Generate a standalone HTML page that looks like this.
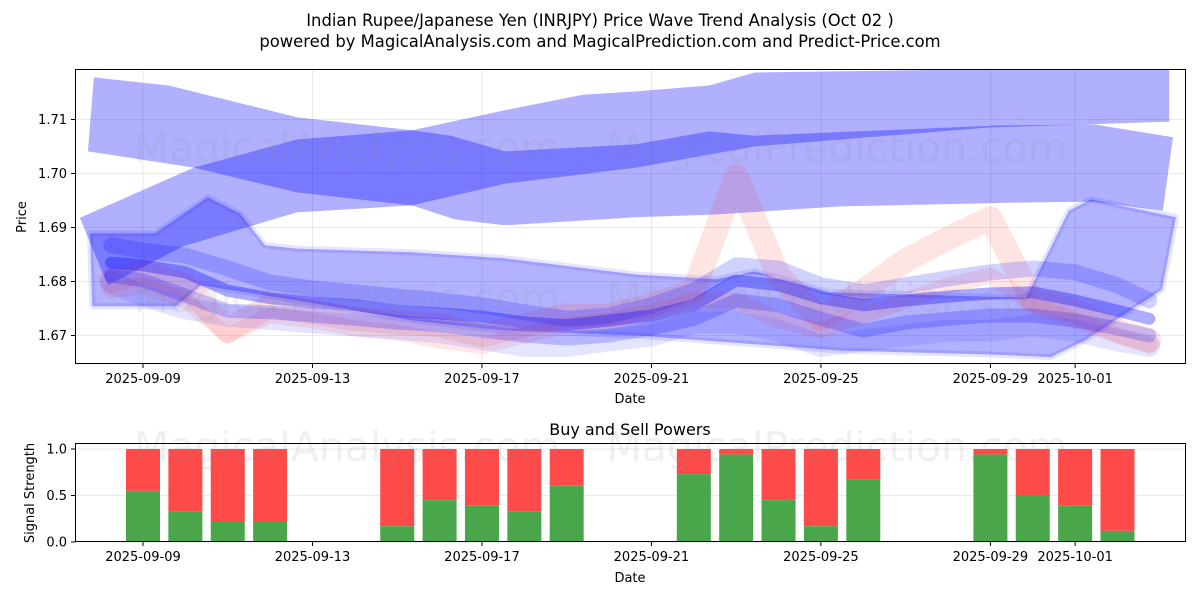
<!DOCTYPE html>
<html><head><meta charset="utf-8">
<style>
html,body{margin:0;padding:0;background:#fff;}
svg{display:block;font-family:"DejaVu Sans","Liberation Sans",sans-serif;}
</style></head>
<body>
<svg id="chart" width="1200" height="600" viewBox="0 0 1200 600" xmlns="http://www.w3.org/2000/svg">
<defs>
<clipPath id="clipTop"><rect x="76" y="70" width="1110" height="294"/></clipPath>
</defs>
<rect width="1200" height="600" fill="#fff"/>
<text x="600" y="26" text-anchor="middle" font-size="16.4">Indian Rupee/Japanese Yen (INRJPY) Price Wave Trend Analysis (Oct 02 )</text>
<text x="600" y="47" text-anchor="middle" font-size="16.4">powered by MagicalAnalysis.com and MagicalPrediction.com and Predict-Price.com</text>
<g id="gTopGrid"></g>
<g id="gTopMarks" clip-path="url(#clipTop)"></g>
<g id="gBotGrid"></g>
<g id="gBars"></g>
<g id="gWater" font-size="41" fill="#888" fill-opacity="0.13" text-anchor="middle">
<text x="347" y="162">MagicalAnalysis.com</text>
<text x="837" y="162">MagicalPrediction.com</text>
<text x="347" y="312">MagicalAnalysis.com</text>
<text x="837" y="312">MagicalPrediction.com</text>
<text x="347" y="461">MagicalAnalysis.com</text>
<text x="837" y="461">MagicalPrediction.com</text>
</g>
<rect x="75.5" y="69.5" width="1110" height="294" fill="none" stroke="#000" stroke-width="1"/>
<rect x="75.5" y="443.5" width="1110" height="98" fill="none" stroke="#000" stroke-width="1"/>
<g id="gAxes" font-size="13"></g>
<text x="630" y="403" text-anchor="middle" font-size="13">Date</text>
<text x="26" y="217" text-anchor="middle" font-size="13" transform="rotate(-90 26 217)">Price</text>
<text x="630" y="435" text-anchor="middle" font-size="16">Buy and Sell Powers</text>
<text x="630" y="582" text-anchor="middle" font-size="13">Date</text>
<text x="34" y="493" text-anchor="middle" font-size="13" transform="rotate(-90 34 493)">Signal Strength</text>
</svg>
<script>
// ---- data (day offsets from 2025-09-09, prices) ----
const xTickDays = [0, 4, 8, 12, 16, 20, 22];
const xTickLabels = ["2025-09-09","2025-09-13","2025-09-17","2025-09-21","2025-09-25","2025-09-29","2025-10-01"];
const yTickValues = [1.67, 1.68, 1.69, 1.70, 1.71];
const yTickLabels = ["1.67","1.68","1.69","1.70","1.71"];
const sTickValues = [0, 0.5, 1.0];
const sTickLabels = ["0.0","0.5","1.0"];

const bandATopDay = [-1.16,0.61,3.63,6.35,8.54,10.38,11.64,13.36,14.44,24.22];
const bandATopPrice = [1.7178,1.7163,1.7104,1.7080,1.7117,1.7146,1.7152,1.7163,1.7187,1.7198];
const bandABotDay = [-1.30,1.20,3.63,6.35,8.54,11.64,14.44,19.92,24.22];
const bandABotPrice = [1.7041,1.7011,1.6965,1.6941,1.6981,1.7011,1.7050,1.7085,1.7096];

const bandBTopDay = [-1.49,1.20,3.63,6.35,7.27,8.54,11.64,13.36,14.44,20.23,22.45,24.31];
const bandBTopPrice = [1.6918,1.7011,1.7063,1.7080,1.7070,1.7041,1.7054,1.7078,1.7070,1.7089,1.7091,1.7067];
const bandBBotDay = [-0.83,0.94,3.63,6.35,7.36,8.54,11.64,13.52,16.47,20.44,22.45,24.07];
const bandBBotPrice = [1.6793,1.6865,1.6928,1.6941,1.6915,1.6904,1.6919,1.6924,1.6939,1.6946,1.6948,1.6931];

const bandCTopDay = [-1.25,0.28,1.53,2.29,2.88,3.63,6.35,8.54,11.64,13.52,14.44,16.21,20.84,21.85,22.37,24.38];
const bandCTopPrice = [1.6889,1.6889,1.6956,1.6926,1.6867,1.6861,1.6854,1.6843,1.6813,1.6804,1.6819,1.6780,1.6770,1.6931,1.6952,1.6919];
const bandCBotDay = [-1.20,0.78,1.37,3.63,6.35,8.54,11.64,16.47,19.92,21.43,22.21,24.05];
const bandCBotPrice = [1.6754,1.6754,1.6793,1.6765,1.6728,1.6709,1.6700,1.6672,1.6665,1.6660,1.6690,1.6785];

const lineDays = [-0.75,0,1,2,3,4,5,6,7,8,9,10,11,12,13,14,15,16,17,18,19,20,21,22,23,23.75];
const blue1 = [1.6835,1.6830,1.6817,1.6783,1.6769,1.6761,1.6756,1.6746,1.6741,1.6735,1.6724,1.6719,1.6728,1.6737,1.6756,1.6802,1.6793,1.6769,1.6756,1.6765,1.6772,1.6778,1.6780,1.6765,1.6746,1.6731];
const blue2 = [1.6867,1.6857,1.6848,1.6824,1.6798,1.6787,1.6780,1.6772,1.6765,1.6756,1.6743,1.6731,1.6737,1.6756,1.6783,1.6830,1.6824,1.6793,1.6780,1.6793,1.6806,1.6817,1.6824,1.6817,1.6793,1.6765];
const blue3 = [1.6811,1.6802,1.6774,1.6746,1.6743,1.6737,1.6731,1.6724,1.6719,1.6709,1.6700,1.6694,1.6700,1.6713,1.6731,1.6765,1.6756,1.6731,1.6709,1.6724,1.6731,1.6737,1.6737,1.6728,1.6713,1.6700];
const blue4 = [1.6798,1.6774,1.6750,1.6737,1.6731,1.6724,1.6719,1.6713,1.6706,1.6694,1.6681,1.6681,1.6691,1.6700,1.6724,1.6724,1.6709,1.6681,1.6691,1.6700,1.6709,1.6709,1.6719,1.6709,1.6691,1.6681];
const red1 = [1.6802,1.6817,1.6793,1.6709,1.6756,1.6743,1.6731,1.6724,1.6719,1.6700,1.6719,1.6737,1.6737,1.6756,1.6783,1.6996,1.6811,1.6731,1.6783,1.6839,1.6880,1.6917,1.6765,1.6746,1.6709,1.6691];
const red2 = [1.6783,1.6793,1.6765,1.6700,1.6737,1.6728,1.6713,1.6706,1.6691,1.6681,1.6700,1.6719,1.6728,1.6743,1.6765,1.6765,1.6728,1.6709,1.6737,1.6765,1.6793,1.6811,1.6756,1.6728,1.6700,1.6681];

const barDays = [0,1,2,3,6,7,8,9,10,13,14,15,16,17,20,21,22,23];
const buyPower = [0.55,0.33,0.22,0.22,0.17,0.45,0.39,0.33,0.61,0.73,0.94,0.45,0.17,0.67,0.94,0.50,0.39,0.12];

// ---- axes ----
const NS = "http://www.w3.org/2000/svg";
function xS(d){ return 143 + d * 42.37; }
function yP(p){ return 119.5 + (1.71 - p) * 5400; }
function yS(v){ return 542 - v * 93; }
function mk(tag, attrs, parent){
  const e = document.createElementNS(NS, tag);
  for (const k in attrs) e.setAttribute(k, attrs[k]);
  parent.appendChild(e); return e;
}
const gTopGrid = document.getElementById('gTopGrid');
const gTopMarks = document.getElementById('gTopMarks');
const gBotGrid = document.getElementById('gBotGrid');
const gBars = document.getElementById('gBars');
const gAxes = document.getElementById('gAxes');

xTickDays.forEach((d, i) => {
  const x = xS(d);
  const g1 = mk('line', {x1:x, x2:x, y1:70, y2:363, stroke:'#b0b0b0', 'stroke-opacity':0.35, 'stroke-width':0.8}, gTopGrid);
  
  
  const t1 = mk('line', {x1:x, x2:x, y1:364, y2:368, stroke:'#000'}, gAxes);
  
  
  const l1 = mk('text', {x:x, y:383, 'text-anchor':'middle'}, gAxes);
  l1.textContent = xTickLabels[i];
  
  
  const t2 = mk('line', {x1:x, x2:x, y1:542, y2:546, stroke:'#000'}, gAxes);
  
  
  const l2 = mk('text', {x:x, y:561, 'text-anchor':'middle'}, gAxes);
  l2.textContent = xTickLabels[i];
  
  
});
yTickValues.forEach((v, i) => {
  const y = yP(v);
  const g = mk('line', {x1:76, x2:1185, y1:y, y2:y, stroke:'#b0b0b0', 'stroke-opacity':0.35, 'stroke-width':0.8}, gTopGrid);
  
  
  const t = mk('line', {x1:71, x2:75.5, y1:y, y2:y, stroke:'#000'}, gAxes);
  
  
  const l = mk('text', {x:67, y:y+4.5, 'text-anchor':'end'}, gAxes);
  l.textContent = yTickLabels[i];
  
  
});
sTickValues.forEach((v, i) => {
  const y = yS(v);
  const g = mk('line', {x1:76, x2:1185, y1:y, y2:y, stroke:'#b0b0b0', 'stroke-opacity':0.35, 'stroke-width':0.8}, gBotGrid);
  
  
  const t = mk('line', {x1:71, x2:75.5, y1:y, y2:y, stroke:'#000'}, gAxes);
  
  
  const l = mk('text', {x:67, y:y+4.5, 'text-anchor':'end'}, gAxes);
  l.textContent = sTickLabels[i];
  
  
});

function bandPath(td, tp, bd, bp){
  let pts = td.map((d,i)=> xS(d).toFixed(1)+','+yP(tp[i]).toFixed(1));
  for (let i = bd.length-1; i >= 0; i--) pts.push(xS(bd[i]).toFixed(1)+','+yP(bp[i]).toFixed(1));
  return pts.join(' ');
}
const bA = mk('polygon', {points: bandPath(bandATopDay,bandATopPrice,bandABotDay,bandABotPrice), fill:'#0000ff', 'fill-opacity':0.31}, gTopMarks);


const bB = mk('polygon', {points: bandPath(bandBTopDay,bandBTopPrice,bandBBotDay,bandBBotPrice), fill:'#0000ff', 'fill-opacity':0.31}, gTopMarks);


const bC = mk('polygon', {points: bandPath(bandCTopDay,bandCTopPrice,bandCBotDay,bandCBotPrice), fill:'#0000ff', 'fill-opacity':0.3, stroke:'#0000ff', 'stroke-opacity':0.1, 'stroke-width':6, 'stroke-linejoin':'round'}, gTopMarks);



function linePts(vals){ return lineDays.map((d,i)=> xS(d).toFixed(1)+','+yP(vals[i]).toFixed(1)).join(' '); }
const lineSpecs = [
  [red1, '#ff3030', 0.13, 24, 'wave-line-red-1'],
  [red2, '#ff3030', 0.12, 16, 'wave-line-red-2'],
  [blue4, '#4040ff', 0.14, 22, 'wave-line-blue-4'],
  [blue2, '#0000ff', 0.18, 16, 'wave-line-blue-2'],
  [blue3, '#0000ff', 0.2, 14, 'wave-line-blue-3'],
  [blue1, '#0000ff', 0.32, 12, 'wave-line-blue-1']
];
lineSpecs.forEach(s => {
  const pl = mk('polyline', {points: linePts(s[0]), fill:'none', stroke:s[1], 'stroke-opacity':s[2], 'stroke-width':s[3], 'stroke-linejoin':'round', 'stroke-linecap':'round'}, gTopMarks);
  
  
});

barDays.forEach((d, i) => {
  const x = xS(d) - 17;
  const v = buyPower[i];
  const sell = mk('rect', {x:x, y:yS(1), width:34, height:yS(v)-yS(1), fill:'#ff4a4a'}, gBars);
  
  
  const buy = mk('rect', {x:x, y:yS(v), width:34, height:yS(0)-yS(v), fill:'#4aa64a'}, gBars);
  
  
});
</script>
</body></html>
